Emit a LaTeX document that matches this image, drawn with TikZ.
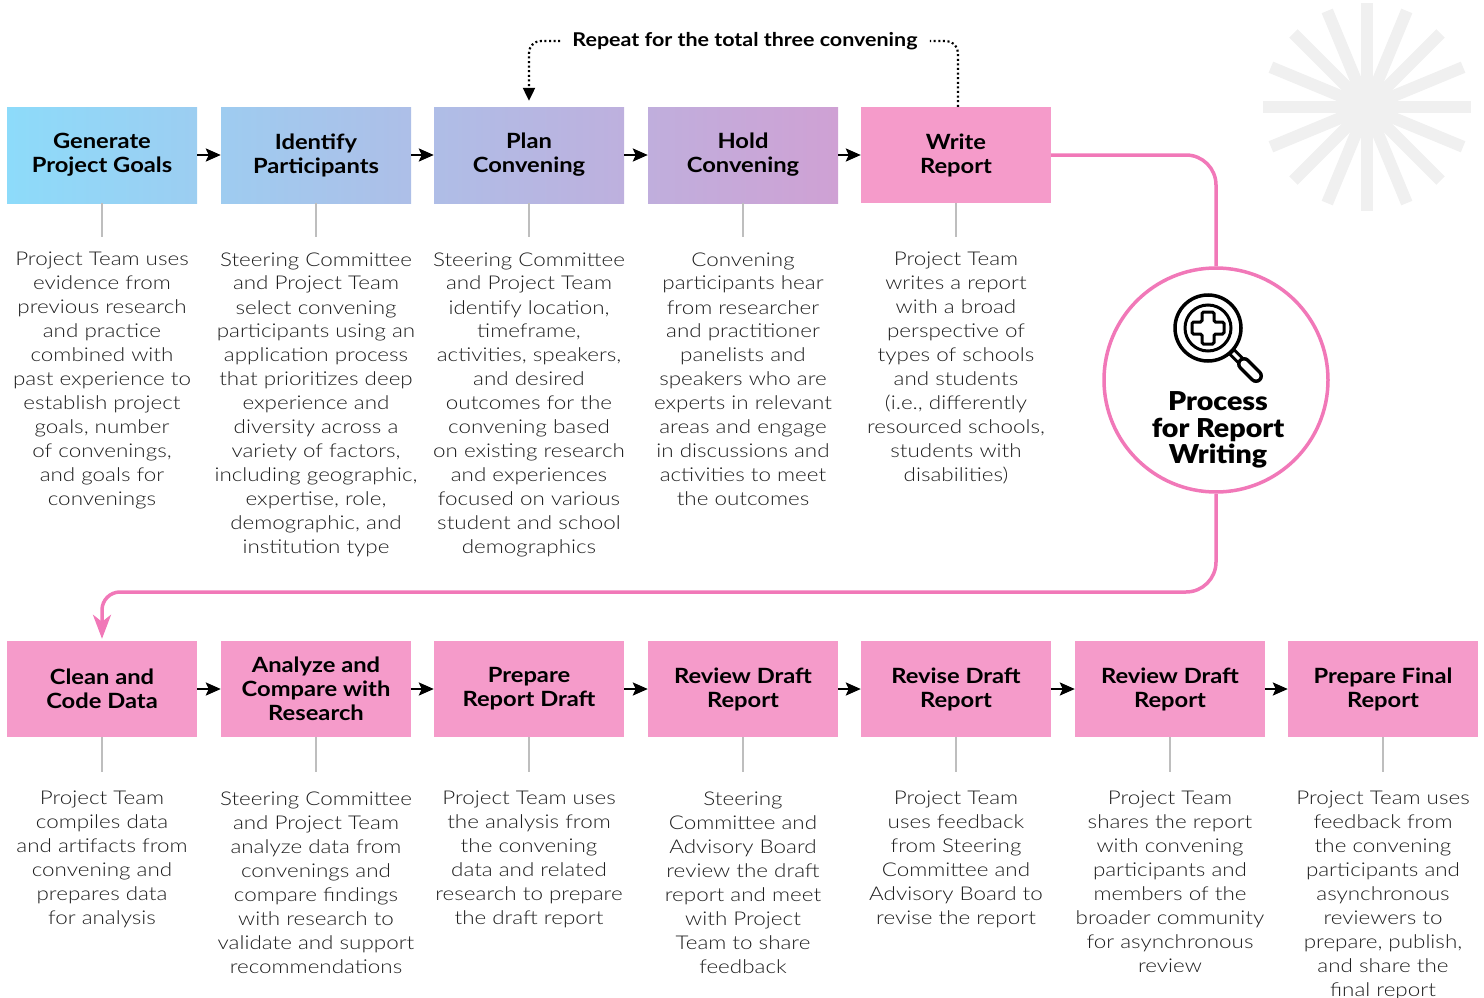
\documentclass[tikz,border=0pt]{standalone}
\usepackage{fontspec}
\setmainfont{Lato}[FakeStretch=1.13]
\newfontfamily\lightfont{Lato Light}[FakeStretch=1.18]
\newfontfamily\blackfont{Lato Black}[FakeStretch=1.1]
\usetikzlibrary{positioning,arrows.meta}

\definecolor{skyblue}{RGB}{141,219,250}
\definecolor{mauve}{RGB}{207,161,212}
\definecolor{stagepink}{RGB}{245,155,202}
\definecolor{linkpink}{RGB}{241,120,184}
\definecolor{stemgray}{RGB}{190,190,190}
\definecolor{textgray}{RGB}{30,30,30}
\definecolor{burst}{RGB}{240,240,240}

\tikzset{
  stage/.style={minimum width=190pt, minimum height=96pt, inner sep=0pt, align=center,
    font=\fontsize{21}{24}\selectfont\bfseries},
  pinkstage/.style={stage, fill=stagepink},
  blurb/.style={below=#1, anchor=north, align=center, inner sep=0pt,
    text=textgray, font=\lightfont\fontsize{19}{24}\selectfont},
  stem/.style={draw=stemgray, line width=1.5pt},
  flow/.style={line width=2.5pt, -{Stealth[length=15pt,width=13pt,inset=3pt]}},
  link/.style={draw=linkpink, line width=3.5pt},
  again/.style={line width=2.2pt, dash pattern=on 2pt off 2.6pt, rounded corners=12pt},
}

\begin{document}
\begin{tikzpicture}[x=1pt,y=-1pt]
\useasboundingbox (0,0) rectangle (1484,998);

% light burst behind the corner
\foreach \a in {0,22.5,...,157.5}
  \draw[burst, line width=12pt] (1367,107) ++(\a:-104) -- ++(\a:208);

% first row: convening
\node[stage, left color=skyblue, right color=mauve!23!skyblue] (gen) at (102,155) {Generate\\Project Goals};
\node[stage, left color=mauve!26!skyblue, right color=mauve!49!skyblue] (ppl) at (316,155) {Identify\\Participants};
\node[stage, left color=mauve!51!skyblue, right color=mauve!74!skyblue] (plan) at (529,155) {Plan\\Convening};
\node[stage, left color=mauve!77!skyblue, right color=mauve] (hold) at (743,155) {Hold\\Convening};
\node[pinkstage] (write) at (956,155) {Write\\Report};

% second row: report
\node[pinkstage] (clean) at (102,689) {Clean and\\Code Data};
\node[pinkstage] (analyze) at (316,689) {Analyze and\\Compare with\\Research};
\node[pinkstage] (draft) at (529,689) {Prepare\\Report Draft};
\node[pinkstage] (review) at (743,689) {Review Draft\\Report};
\node[pinkstage] (revise) at (956,689) {Revise Draft\\Report};
\node[pinkstage] (reshare) at (1170,689) {Review Draft\\Report};
\node[pinkstage] (final) at (1383,689) {Prepare Final\\Report};

\foreach \a/\b in {gen/ppl,ppl/plan,plan/hold,hold/write,
                   clean/analyze,analyze/draft,draft/review,review/revise,revise/reshare,reshare/final}
  \draw[flow] (\a) -- (\b);

% descriptions under each step
\node[blurb=49pt of gen.south] (genTxt) {Project Team uses\\evidence from\\previous research\\and practice\\combined with\\past experience to\\establish project\\goals, number\\of convenings,\\and goals for\\convenings};
\node[blurb=49pt of ppl.south] (pplTxt) {Steering Committee\\and Project Team\\select convening\\participants using an\\application process\\that prioritizes deep\\experience and\\diversity across a\\variety of factors,\\including geographic,\\expertise, role,\\demographic, and\\institution type};
\node[blurb=49pt of plan.south] (planTxt) {Steering Committee\\and Project Team\\identify location,\\timeframe,\\activities, speakers,\\and desired\\outcomes for the\\convening based\\on existing research\\and experiences\\focused on various\\student and school\\demographics};
\node[blurb=49pt of hold.south] (holdTxt) {Convening\\participants hear\\from researcher\\and practitioner\\panelists and\\speakers who are\\experts in relevant\\areas and engage\\in discussions and\\activities to meet\\the outcomes};
\node[blurb=49pt of write.south] (writeTxt) {Project Team\\writes a report\\with a broad\\perspective of\\types of schools\\and students\\(i.e., differently\\resourced schools,\\students with\\disabilities)};

\node[blurb=54pt of clean.south] (cleanTxt) {Project Team\\compiles data\\and artifacts from\\convening and\\prepares data\\for analysis};
\node[blurb=54pt of analyze.south] (analyzeTxt) {Steering Committee\\and Project Team\\analyze data from\\convenings and\\compare findings\\with research to\\validate and support\\recommendations};
\node[blurb=54pt of draft.south] (draftTxt) {Project Team uses\\the analysis from\\the convening\\data and related\\research to prepare\\the draft report};
\node[blurb=54pt of review.south] (reviewTxt) {Steering\\Committee and\\Advisory Board\\review the draft\\report and meet\\with Project\\Team to share\\feedback};
\node[blurb=54pt of revise.south] (reviseTxt) {Project Team\\uses feedback\\from Steering\\Committee and\\Advisory Board to\\revise the report};
\node[blurb=54pt of reshare.south] (reshareTxt) {Project Team\\shares the report\\with convening\\participants and\\members of the\\broader community\\for asynchronous\\review};
\node[blurb=54pt of final.south] (finalTxt) {Project Team uses\\feedback from\\the convening\\participants and\\asynchronous\\reviewers to\\prepare, publish,\\and share the\\final report};

\foreach \n in {gen,ppl,plan,hold,write}
  \draw[stem, shorten >=15pt] (\n.south) -- (\n Txt.north);
\foreach \n in {clean,analyze,draft,review,revise,reshare,final}
  \draw[stem, shorten >=19pt] (\n.south) -- (\n Txt.north);

% repeat loop over the convening steps
\node[font=\bfseries\fontsize{19}{24}\selectfont, inner xsep=12pt] (rep) at (745,41) {Repeat for the total three convening};
\draw[again] ([xshift=2pt]write.north) |- (rep.east);
\draw[again, shorten >=6pt, -{Triangle[length=13pt,width=12pt]}] (rep.west) -| (plan.north);

% hub circle with magnifier
\node[circle, draw=linkpink, line width=3.5pt, minimum size=224pt, inner sep=0pt] (hub) at (1216,380) {};
\node[font=\blackfont\fontsize{26}{26.5}\selectfont, align=center] (hubTxt) at (1218,430) {Process\\for Report\\Writing};
\draw[line width=3.5pt] (1208,328) circle[radius=33];
\draw[line width=3pt] (1208,328) circle[radius=23];
\draw[line width=3pt, rounded corners=1.5pt] (1202,312) -- (1214,312) -- (1214,322) -- (1224,322)
  -- (1224,334) -- (1214,334) -- (1214,344) -- (1202,344) -- (1202,334) -- (1192,334)
  -- (1192,322) -- (1202,322) -- cycle;
\draw[line width=9pt] (1231,351) -- (1242,362);
\draw[white, line width=3pt] (1233,353) -- (1242,362);
\draw[line width=14pt, line cap=round] (1244,364) -- (1256,376);
\draw[white, line width=7pt, line cap=round] (1244,364) -- (1256,376);

% pink links through the hub
\coordinate (bend) at (700,592);
\draw[link, rounded corners=30pt] (write.east) -| (hub.north);
\draw[link, shorten >=2pt, -{Stealth[length=24pt,width=18pt,inset=7pt]}]
  (hub.south) [rounded corners=30pt] |- (bend) [rounded corners=18pt] -| (clean.north);
\end{tikzpicture}
\end{document}
